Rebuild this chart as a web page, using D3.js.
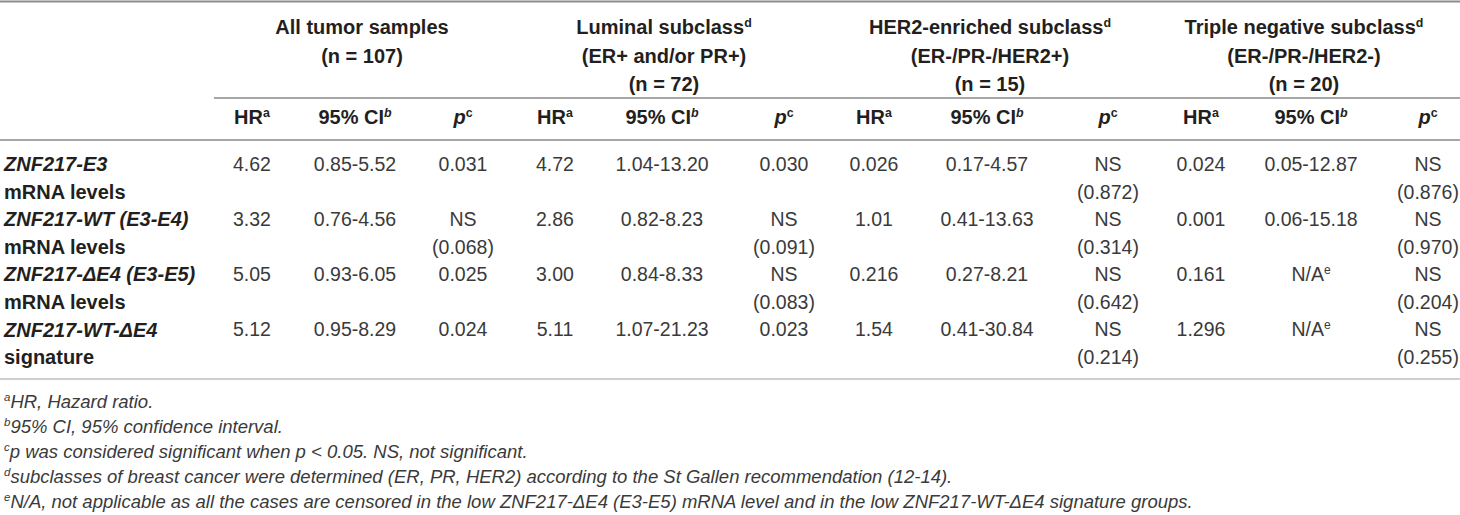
<!DOCTYPE html>
<html>
<head>
<meta charset="utf-8">
<script src="https://cdn.jsdelivr.net/npm/d3@7"></script>
<style>
  html, body { margin: 0; padding: 0; background: #fff; }
  svg { display: block; }
  text { font-family: "Liberation Sans", Arial, Helvetica, sans-serif; fill: #231f20; }
</style>
</head>
<body>
<svg id="chart" width="1460" height="515"></svg>
<script>
// ---------- data ----------
const groupTitles = ["All tumor samples", "Luminal subclass^{d}", "HER2-enriched subclass^{d}", "Triple negative subclass^{d}"];
const groupSubtitles = [[], ["(ER+ and/or PR+)"], ["(ER-/PR-/HER2+)"], ["(ER-/PR-/HER2-)"]];
const groupN = ["(n = 107)", "(n = 72)", "(n = 15)", "(n = 20)"];
const columnHeaders = ["HR^{a}", "95% CI^{*b*}", "*p*^{c}"];

const rowLabels = [
  ["ZNF217-E3", "mRNA levels"],
  ["ZNF217-WT (E3-E4)", "mRNA levels"],
  ["ZNF217-ΔE4 (E3-E5)", "mRNA levels"],
  ["ZNF217-WT-ΔE4", "signature"]
];

const hrAll = ["4.62", "3.32", "5.05", "5.12"];
const ciAll = ["0.85-5.52", "0.76-4.56", "0.93-6.05", "0.95-8.29"];
const pAll  = [["0.031"], ["NS", "(0.068)"], ["0.025"], ["0.024"]];

const hrLum = ["4.72", "2.86", "3.00", "5.11"];
const ciLum = ["1.04-13.20", "0.82-8.23", "0.84-8.33", "1.07-21.23"];
const pLum  = [["0.030"], ["NS", "(0.091)"], ["NS", "(0.083)"], ["0.023"]];

const hrHer2 = ["0.026", "1.01", "0.216", "1.54"];
const ciHer2 = ["0.17-4.57", "0.41-13.63", "0.27-8.21", "0.41-30.84"];
const pHer2  = [["NS", "(0.872)"], ["NS", "(0.314)"], ["NS", "(0.642)"], ["NS", "(0.214)"]];

const hrTn = ["0.024", "0.001", "0.161", "1.296"];
const ciTn = ["0.05-12.87", "0.06-15.18", "N/A^{e}", "N/A^{e}"];
const pTn  = [["NS", "(0.876)"], ["NS", "(0.970)"], ["NS", "(0.204)"], ["NS", "(0.255)"]];

const footnotes = [
  "^{a}HR, Hazard ratio.",
  "^{b}95% CI, 95% confidence interval.",
  "^{c}p was considered significant when p < 0.05. NS, not significant.",
  "^{d}subclasses of breast cancer were determined (ER, PR, HER2) according to the St Gallen recommendation (12-14).",
  "^{e}N/A, not applicable as all the cases are censored in the low ZNF217-ΔE4 (E3-E5) mRNA level and in the low ZNF217-WT-ΔE4 signature groups."
];

// ---------- layout ----------
const W = 1460, H = 515;
const FS = 20, FD = 19.5, FN = 18.5;
const svg = d3.select("#chart");

const groupCols = [
  [hrAll, ciAll, pAll],
  [hrLum, ciLum, pLum],
  [hrHer2, ciHer2, pHer2],
  [hrTn, ciTn, pTn]
];

// column centers (layout)
const colScale = d3.scaleOrdinal()
  .domain(d3.range(12))
  .range([252, 355, 463, 555, 662, 784, 874, 987, 1108, 1201, 1311, 1428]);
const groupCenter = d3.scaleOrdinal().domain(d3.range(4)).range([362, 664, 990, 1304]);

// body line positions (text centers)
const lineY = d3.scaleLinear().domain([0, 7]).range([164, 357]);
const headY = d3.scaleLinear().domain([0, 2]).range([27, 84]);
const footY = d3.scaleLinear().domain([0, 4]).range([401, 501]);
const base = (c, fs) => c + fs * 0.36;

// rich text: ^{..} superscript, *..* italic
function rich(textSel, str, fs, opts = {}) {
  const parts = str.split(/(\^\{[^}]*\})/).filter(s => s.length);
  let pending = 0;
  parts.forEach(part => {
    let sup = false, s = part;
    if (part.startsWith("^{")) { sup = true; s = part.slice(2, -1); }
    const sub = s.split(/(\*[^*]*\*)/).filter(x => x.length);
    sub.forEach((seg, i) => {
      let ital = opts.italic || false, t = seg;
      if (seg.startsWith("*") && seg.endsWith("*") && seg.length > 1) { ital = true; t = seg.slice(1, -1); }
      const ts = textSel.append("tspan").text(t)
        .attr("font-style", ital ? "italic" : "normal");
      if (sup) {
        ts.attr("font-size", fs * 0.62);
        if (i === 0) { ts.attr("dy", -fs * 0.38); pending = fs * 0.38; }
      } else if (pending) {
        ts.attr("dy", pending); pending = 0;
      }
    });
  });
  return textSel;
}

// ---------- rules ----------
const rules = [
  { x1: 0, x2: W, y: 1.5, c: "#8c8c8c", w: 2 },
  { x1: 214, x2: W, y: 98, c: "#a6a6a6", w: 2 },
  { x1: 0, x2: W, y: 140, c: "#a6a6a6", w: 2 },
  { x1: 0, x2: W, y: 379, c: "#cfcfcf", w: 2 }
];
svg.selectAll("line.rule").data(rules).join("line")
  .attr("class", "rule")
  .attr("x1", d => d.x1).attr("x2", d => d.x2)
  .attr("y1", d => d.y).attr("y2", d => d.y)
  .attr("stroke", d => d.c).attr("stroke-width", d => d.w);

// ---------- group headers ----------
groupTitles.forEach((title, g) => {
  const lines = [title].concat(groupSubtitles[g]).concat([groupN[g]]);
  lines.forEach((ln, i) => {
    const t = svg.append("text")
      .attr("x", groupCenter(g))
      .attr("y", base(headY(i), FS))
      .attr("text-anchor", "middle")
      .attr("font-size", FS)
      .attr("font-weight", "bold");
    rich(t, ln, FS);
  });
});

// ---------- column headers ----------
d3.range(4).forEach(g => {
  columnHeaders.forEach((h, k) => {
    const t = svg.append("text")
      .attr("x", colScale(g * 3 + k))
      .attr("y", base(117, FS))
      .attr("text-anchor", "middle")
      .attr("font-size", FS)
      .attr("font-weight", "bold");
    rich(t, h, FS);
  });
});

// ---------- row labels ----------
rowLabels.forEach((lbl, r) => {
  svg.append("text")
    .attr("x", 4).attr("y", base(lineY(r * 2), FS))
    .attr("font-size", FS).attr("font-weight", "bold").attr("font-style", "italic")
    .text(lbl[0]);
  svg.append("text")
    .attr("x", 4).attr("y", base(lineY(r * 2 + 1), FS))
    .attr("font-size", FS).attr("font-weight", "bold")
    .text(lbl[1]);
});

// ---------- cells ----------
groupCols.forEach((cols, g) => {
  cols.forEach((vals, k) => {
    vals.forEach((v, r) => {
      const linesArr = Array.isArray(v) ? v : [v];
      linesArr.forEach((ln, li) => {
        const t = svg.append("text")
          .attr("x", colScale(g * 3 + k))
          .attr("y", base(lineY(r * 2 + li), FD))
          .attr("text-anchor", "middle")
          .attr("font-size", FD)
          .style("fill", "#3a3a3a");
        rich(t, ln, FD);
      });
    });
  });
});

// ---------- footnotes ----------
footnotes.forEach((f, i) => {
  const t = svg.append("text")
    .attr("x", 4).attr("y", base(footY(i), FN))
    .attr("font-size", FN)
    .style("fill", "#3a3a3a");
  rich(t, f, FN, { italic: true });
});
</script>
</body>
</html>
